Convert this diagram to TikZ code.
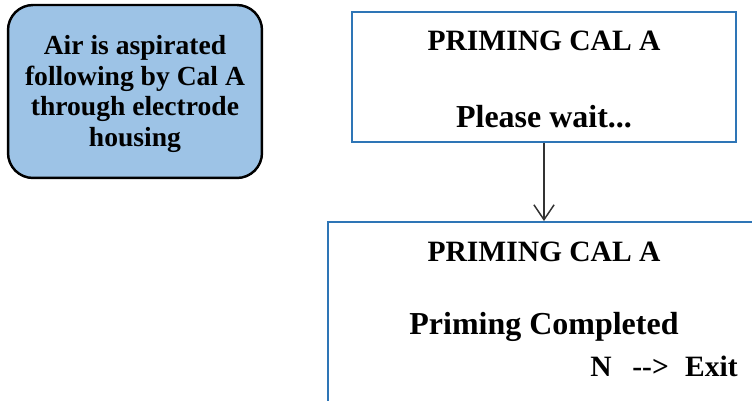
\documentclass[tikz,border=0pt]{standalone}
\usepackage{fontspec}
\setmainfont{Liberation Serif}
\usepackage{tikz}
\usetikzlibrary{arrows.meta}
\usetikzlibrary{positioning}
\definecolor{screenblue}{RGB}{46,117,182}
\definecolor{notefill}{RGB}{157,195,230}
\definecolor{arrowgray}{RGB}{51,51,51}
\tikzset{>={Straight Barb[length=8.5pt,width=11.5pt]}}
\tikzstyle{note} = [draw=black, line width=1.4pt, fill=notefill, rounded corners=0.5cm, inner sep=0]
\tikzstyle{screen} = [draw=screenblue, line width=1.1pt, fill=white, inner sep=0]
\tikzstyle{lbl} = [draw=none, inner sep=0, font=\bfseries\fontsize{15.7}{17.3}\selectfont]
\tikzstyle{title} = [lbl, font=\bfseries\fontsize{16.8}{18}\selectfont]
\tikzstyle{msg} = [lbl, font=\bfseries\fontsize{18.2}{20}\selectfont]

\begin{document}
\begin{tikzpicture}[x=0.02cm, y=-0.02cm]
\clip (0,0) rectangle (752,401);
% note on the left
\node [note, minimum width=5.08cm, minimum height=3.46cm] (air) at (135,91.5) {};
\node [lbl, align=center] (airtxt) at (135,94) {Air is aspirated\\following by Cal A\\through electrode\\housing};
% screens
\node [screen, minimum width=7.68cm, minimum height=2.6cm] (wait) at (544,77) {};
\node [title] (waittitle) at (544,41) {PRIMING CAL A};
\node [msg] (waitmsg) at (544,117) {Please wait...};
\node [screen, minimum width=8.84cm, minimum height=3.96cm] (done) at (548.5,321) {};
\node [title] (donetitle) at (544,252) {PRIMING CAL A};
\node [msg] (donemsg) at (544,327) {Priming Completed};
\node [title] (doneexit) at (664,366) {N\hspace{0.7em}-{}->\hspace{0.55em}Exit};
\draw [->, draw=arrowgray, line width=0.85pt] (wait) -- (wait |- done.north);
\end{tikzpicture}
\end{document}
